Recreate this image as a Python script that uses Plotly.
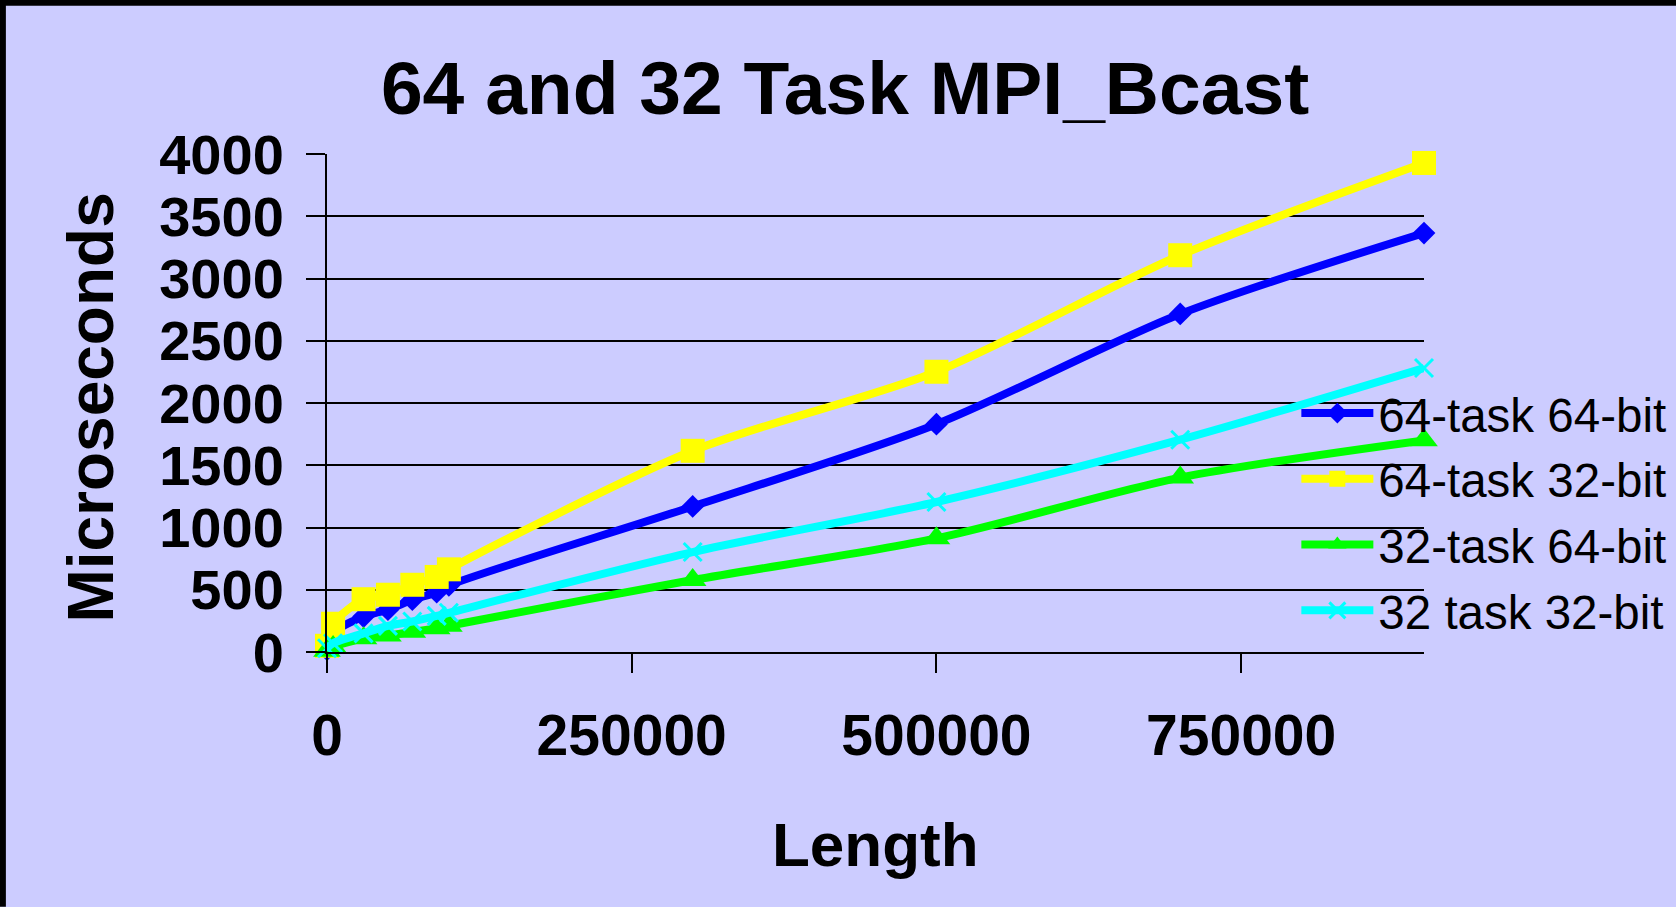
import plotly.graph_objects as go

# ---- data ----
length = [0, 5000, 30000, 50000, 70000, 90000, 100000, 300000, 500000, 700000, 900000]
t64_64 = [20, 150, 285, 340, 420, 480, 535, 1169, 1830, 2715, 3365]
t64_32 = [50, 227, 424, 460, 540, 603, 664, 1616, 2251, 3187, 3928]
t32_64 = [10, 40, 110, 132, 163, 190, 211, 578, 913, 1401, 1700]
t32_32 = [30, 70, 150, 210, 245, 290, 315, 803, 1205, 1705, 2281]

series_names = ["64-task 64-bit", "64-task 32-bit", "32-task 64-bit", "32 task 32-bit"]
y_ticks = [0, 500, 1000, 1500, 2000, 2500, 3000, 3500, 4000]
x_ticks = [0, 250000, 500000, 750000]

W, H = 1676, 907
L, R, T, B = 327, 252.4, 154.3, 254.7
PW, PH = W - L - R, H - T - B
BG = "#CCCCFF"
FONT = "Arial, Liberation Sans, sans-serif"

styles = [
    dict(color="#0000FF", symbol="diamond", size=17.5, lw=0),
    dict(color="#FFFF00", symbol="square", size=24, lw=0),
    dict(color="#00FF00", symbol="triangle-up", size=24, lw=0),
    dict(color="#00FFFF", symbol="x-thin", size=18, lw=3),
]
series = [t64_64, t64_32, t32_64, t32_32]

fig = go.Figure()
for i, (name, ys, st) in enumerate(zip(series_names, series, styles)):
    mk = dict(symbol=st["symbol"], size=st["size"], color=st["color"])
    if st["lw"]:
        mk["line"] = dict(color=st["color"], width=st["lw"])
    fig.add_trace(go.Scatter(
        x=length, y=ys, name=name, mode="lines+markers",
        line=dict(color=st["color"], width=8, shape="spline", smoothing=0.8),
        marker=mk, legendgroup=f"g{i}", cliponaxis=False,
    ))

def px_to_paper_x(px):
    return (px - L) / PW

def py_to_paper_y(py):
    return (H - B - py) / PH

shapes = [
    dict(type="rect", xref="paper", yref="paper",
         x0=px_to_paper_x(0), x1=px_to_paper_x(6), y0=py_to_paper_y(H), y1=py_to_paper_y(0),
         fillcolor="black", line=dict(width=0), layer="above"),
    dict(type="rect", xref="paper", yref="paper",
         x0=px_to_paper_x(0), x1=px_to_paper_x(W), y0=py_to_paper_y(6), y1=py_to_paper_y(0),
         fillcolor="black", line=dict(width=0), layer="above"),
]

fig.update_layout(
    width=W, height=H, autosize=False,
    margin=dict(l=L, r=R, t=T, b=B, pad=0, autoexpand=False),
    paper_bgcolor=BG, plot_bgcolor=BG,
    font=dict(family=FONT, color="black"),
    title=dict(text="64 and 32 Task MPI_Bcast", x=845 / W, xanchor="center",
               y=1 - 88 / H, yanchor="middle", xref="container", yref="container",
               font=dict(size=75, weight="bold", family=FONT)),
    xaxis=dict(range=[0, 900000], tickvals=x_ticks, ticktext=[str(v) for v in x_ticks],
               showgrid=False, zeroline=False, showline=True, linecolor="black", linewidth=2,
               ticks="outside", ticklen=19, tickwidth=2, tickcolor="black",
               tickfont=dict(size=57, weight="bold", family=FONT), ticklabelstandoff=14,
               fixedrange=True, automargin=False),
    yaxis=dict(range=[0, 4000], tickvals=y_ticks, ticktext=[str(v) for v in y_ticks],
               showgrid=True, gridcolor="black", gridwidth=2, zeroline=False,
               showline=True, linecolor="black", linewidth=2,
               ticks="outside", ticklen=19, tickwidth=2, tickcolor="black",
               tickfont=dict(size=56, weight="bold", family=FONT), ticklabelstandoff=11,
               fixedrange=True, automargin=False),
    showlegend=True,
    legend=dict(xref="paper", yref="paper", x=px_to_paper_x(1296), xanchor="left",
                y=py_to_paper_y(376), yanchor="top", bgcolor="rgba(0,0,0,0)",
                font=dict(size=47.5, family=FONT), tracegroupgap=1, itemwidth=72),
    annotations=[
        dict(text="Microseconds", xref="paper", yref="paper",
             x=px_to_paper_x(91), y=py_to_paper_y(408), textangle=-90,
             showarrow=False, xanchor="center", yanchor="middle",
             font=dict(size=64, weight="bold", family=FONT)),
        dict(text="Length", xref="paper", yref="paper",
             x=px_to_paper_x(875.5), y=py_to_paper_y(845),
             showarrow=False, xanchor="center", yanchor="middle",
             font=dict(size=62, weight="bold", family=FONT)),
    ],
    shapes=shapes,
)

fig.write_html("out.html")
